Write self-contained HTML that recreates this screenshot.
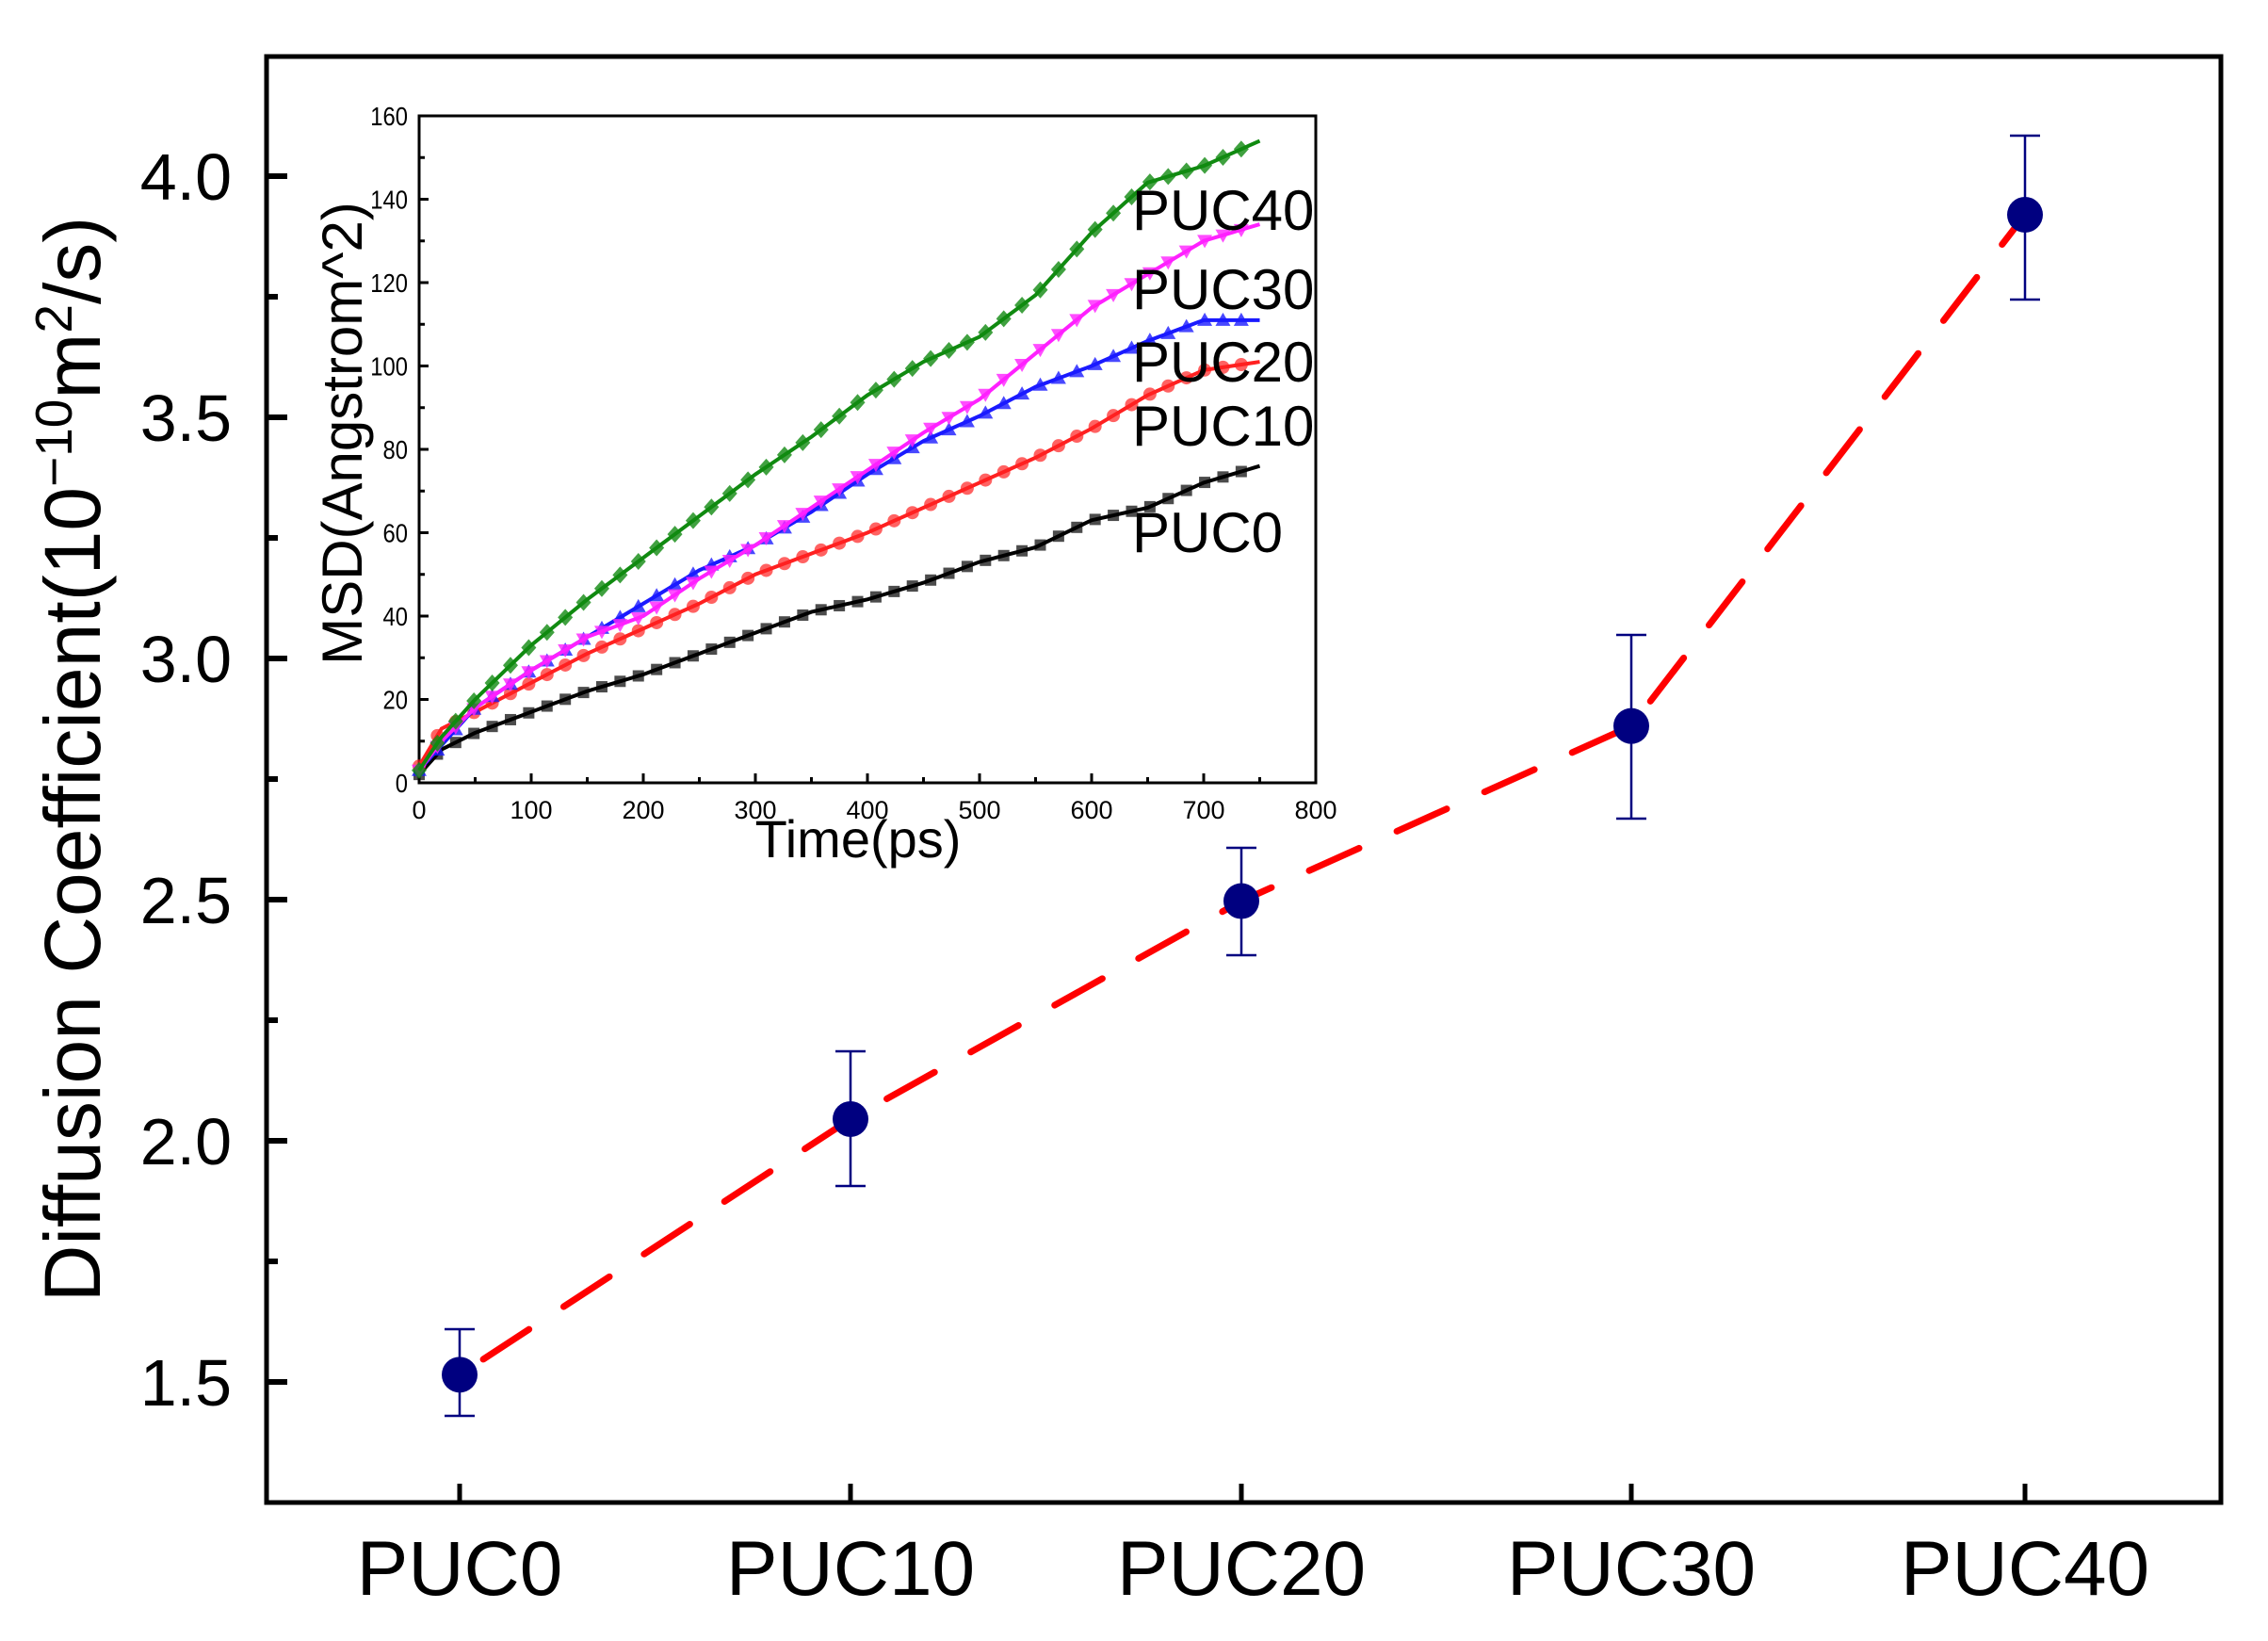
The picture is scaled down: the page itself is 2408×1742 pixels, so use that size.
<!DOCTYPE html>
<html><head><meta charset="utf-8"><style>html,body{margin:0;padding:0;background:#fff}svg{display:block}</style></head>
<body>
<svg id="s" width="2408" height="1742" xmlns="http://www.w3.org/2000/svg" font-family="Liberation Sans, sans-serif">
<rect width="2408" height="1742" fill="#fff"/>
<g id="main"></g>
<g id="inset"></g>
</svg>
<script>
var NS="http://www.w3.org/2000/svg";
function el(p,t,a,txt){var e=document.createElementNS(NS,t);for(var k in a)e.setAttribute(k,a[k]);if(txt!==undefined)e.textContent=txt;p.appendChild(e);return e;}
var M=document.getElementById('main');
var L=283,T=60,R=2358,B=1595;
function Y(v){return 1467-(v-1.5)*512;}
var xs=[488,903,1318,1732,2150];
el(M,'rect',{x:L,y:T,width:R-L,height:B-T,fill:'none',stroke:'#000','stroke-width':5});
for(var v=1.5;v<=4.01;v+=0.25){var maj=Math.abs(v*2-Math.round(v*2))<0.01;el(M,'line',{x1:L,x2:L+(maj?22:12),y1:Y(v),y2:Y(v),stroke:'#000','stroke-width':6});
if(maj)el(M,'text',{x:246,y:Y(v)+25,'font-size':70,'text-anchor':'end'},v.toFixed(1));}
var names=['PUC0','PUC10','PUC20','PUC30','PUC40'];
for(var i=0;i<5;i++){el(M,'line',{x1:xs[i],x2:xs[i],y1:B,y2:B-20,stroke:'#000','stroke-width':5});
el(M,'text',{x:xs[i],y:1693,'font-size':82,'text-anchor':'middle'},names[i]);}
var t=el(M,'text',{transform:'translate(106,806) rotate(-90)','font-size':84,'text-anchor':'middle'});
t.innerHTML='Diffusion Coefficient(10<tspan dy="-30" font-size="55">−10</tspan><tspan dy="30">m</tspan><tspan dy="-30" font-size="55">2</tspan><tspan dy="30">/s)</tspan>';
var d=[1.515,2.045,2.497,2.86,3.92],eu=[1411,1116,900,674,144],ed=[1503,1259,1014,869,318];
var pts=xs.map(function(x,i){return x+','+Y(d[i]);}).join(' ');
el(M,'polyline',{points:pts,fill:'none',stroke:'#ff0000','stroke-width':7,'stroke-dasharray':'58 44','stroke-linecap':'round','stroke-dashoffset':-30});
for(var i=0;i<5;i++){var x=xs[i];
el(M,'line',{x1:x,x2:x,y1:eu[i],y2:ed[i],stroke:'#000080','stroke-width':2.5});
el(M,'line',{x1:x-16,x2:x+16,y1:eu[i],y2:eu[i],stroke:'#000080','stroke-width':2.5});
el(M,'line',{x1:x-16,x2:x+16,y1:ed[i],y2:ed[i],stroke:'#000080','stroke-width':2.5});
el(M,'circle',{cx:x,cy:Y(d[i]),r:19,fill:'#000080'});}
// inset
var I=document.getElementById('inset');
var iL=445,iT=123,iR=1397,iB=831;
function IX(v){return iL+v*(iR-iL)/800;}function IY(v){return iB-v*(iB-iT)/160;}
el(I,'rect',{x:iL,y:iT,width:iR-iL,height:iB-iT,fill:'none',stroke:'#000','stroke-width':3});
for(var v=0;v<=160;v+=10){var mj=v%20==0;el(I,'line',{x1:iL,x2:iL+(mj?10:6),y1:IY(v),y2:IY(v),stroke:'#000','stroke-width':3});
if(mj)el(I,'text',{x:433,y:IY(v)+10,'font-size':28,'text-anchor':'end',transform:'translate(433,0) scale(0.85,1) translate(-433,0)'},v);}
for(var v=0;v<=800;v+=50){var mj=v%100==0;el(I,'line',{x1:IX(v),x2:IX(v),y1:iB,y2:iB-(mj?10:6),stroke:'#000','stroke-width':3});
if(mj)el(I,'text',{x:IX(v),y:iB+38,'font-size':27,'text-anchor':'middle'},v);}
el(I,'text',{x:911,y:910,'font-size':56,'text-anchor':'middle'},'Time(ps)');
el(I,'text',{transform:'translate(384,460) rotate(-90)','font-size':60,'text-anchor':'middle'},'MSD(Angstrom^2)');
var tx=[0,20,50,100,150,200,250,300,350,400,450,500,550,600,650,700,750];
var S=[
{c:'#000000',m:'sq',y:[2,8,12,17,22,26,31,36,41,44,48,53,56.5,63,66,72,76]},
{c:'#ff2020',m:'ci',y:[4,13,17,24,31,37,43,50,55,60,66,72,78,85,93,99,101]},
{c:'#1a1aff',m:'tu',y:[3,9,18,27,35,43,51,57,65,74,82,88,95,100,106,111,111]},
{c:'#ff20ff',m:'td',y:[3,10,18,27,35,40,49,57,66,75,84,92,103,114,122,130,134]},
{c:'#108a10',m:'di',y:[3,11,20,33,44,54,64,74,83,93,101,107,117,132,144,148,154]}];
function interp(y,x){for(var i=1;i<tx.length;i++){if(x<=tx[i]){var f=(x-tx[i-1])/(tx[i]-tx[i-1]);return y[i-1]+f*(y[i]-y[i-1]);}}return y[y.length-1];}
S.forEach(function(s){
var p=[];for(var x=0;x<=750;x+=5)p.push(IX(x)+','+IY(interp(s.y,x)));
for(var x=0;x<=740;x+=16.3){var cx=IX(x),cy=IY(interp(s.y,x)),r=7;
if(s.m=='sq')el(I,'rect',{x:cx-6,y:cy-6,width:12,height:12,fill:s.c,opacity:0.7});
else if(s.m=='ci')el(I,'circle',{cx:cx,cy:cy,r:r,fill:s.c,opacity:0.7});
else if(s.m=='tu')el(I,'polygon',{points:(cx)+','+(cy-8)+' '+(cx-8)+','+(cy+6)+' '+(cx+8)+','+(cy+6),fill:s.c,opacity:0.8});
else if(s.m=='td')el(I,'polygon',{points:(cx)+','+(cy+8)+' '+(cx-8)+','+(cy-6)+' '+(cx+8)+','+(cy-6),fill:s.c,opacity:0.8});
else el(I,'polygon',{points:cx+','+(cy-9)+' '+(cx+8)+','+cy+' '+cx+','+(cy+9)+' '+(cx-8)+','+cy,fill:s.c,opacity:0.8});}
el(I,'polyline',{points:p.join(' '),fill:'none',stroke:s.c,'stroke-width':4});
});
var labs=[['PUC40',223],['PUC30',307],['PUC20',384],['PUC10',452],['PUC0',565]];
labs.forEach(function(l){el(I,'text',{x:1202,y:l[1]+21,'font-size':60},l[0]);});
</script>
</body></html>
